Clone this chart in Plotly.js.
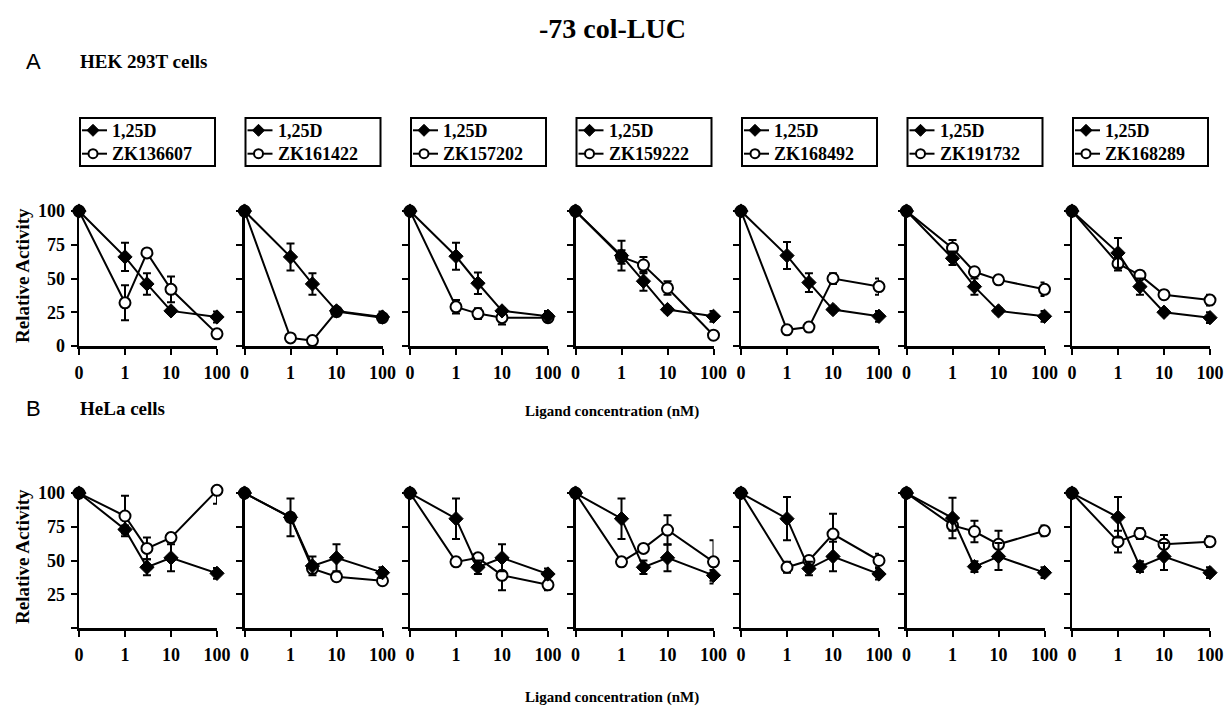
<!DOCTYPE html>
<html>
<head>
<meta charset="utf-8">
<script src="https://cdn.plot.ly/plotly-3.0.1.min.js"></script>
<style>html,body{margin:0;padding:0;background:#fff;}#chart{width:1225px;height:722px;}</style>
</head>
<body>
<div id="chart"></div>
<script>
// ---------------- DATA ----------------
const concentrations = [0, 1, 3, 10, 100];            // nM
const xTickVals = [0, 1, 10, 100];
const xTickText = ['0', '1', '10', '100'];
const yTickVals = [0, 25, 50, 75, 100];
const compounds = ['ZK136607', 'ZK161422', 'ZK157202', 'ZK159222', 'ZK168492', 'ZK191732', 'ZK168289'];
const referenceName = '1,25D';

// HEK 293T cells (panel A)
const hek125D = [
  [100, 66, 46, 26, 21.5],
  [100, 66, 46, 26, 21.5],
  [100, 66.5, 46.5, 26, 22],
  [100, 67, 48, 27, 22],
  [100, 67, 47, 27, 22],
  [100, 65, 44, 26, 22],
  [100, 69, 44, 25, 21]
];
const hek125DErr = [
  [0, 10.5, 8, 2, 4],
  [0, 10, 8, 2, 4],
  [0, 10, 8, 2, 4],
  [0, 11, 7, 2, 4],
  [0, 10, 7, 2, 4],
  [0, 5, 6, 2, 4],
  [0, 11, 6, 2, 4]
];
const hekZK = [
  [100, 32, 69, 42, 9],
  [100, 6, 4, 25.5, 21],
  [100, 29, 24, 21, 21],
  [100, 66, 60, 43, 8],
  [100, 12, 14, 50, 44],
  [100, 72.5, 55, 49, 42],
  [100, 61, 52.5, 38, 34]
];
const hekZKErr = [
  [0, 13, 2, 9.5, 3],
  [0, 2, 2, 2, 3],
  [0, 5, 4, 5, 3],
  [0, 5, 6, 5, 3],
  [0, 2, 3, 4, 6],
  [0, 6, 2, 3, 5],
  [0, 5, 2, 3, 4]
];

// HeLa cells (panel B)
const hela125D = [
  [100, 73, 45, 52, 40.5],
  [100, 82, 46, 52, 41],
  [100, 81, 45, 52, 40],
  [100, 81, 45, 52, 39],
  [100, 81, 44, 53, 40],
  [100, 81.5, 45.5, 53, 41],
  [100, 82, 45.5, 53, 41]
];
const hela125DErr = [
  [0, 3, 6, 10, 4],
  [0, 14, 7, 10, 4],
  [0, 15, 5, 10, 4],
  [0, 15, 5, 10, 4],
  [0, 16, 5, 11, 4],
  [0, 15, 4, 10, 4],
  [0, 15, 4, 10, 4]
];
const helaZK = [
  [100, 83, 59, 67, 102],
  [100, 82, 44, 38, 35],
  [100, 49, 52, 39, 32],
  [100, 49, 59, 72.6, 49],
  [100, 45, 50, 69.6, 50],
  [100, 76, 71.5, 62, 72],
  [100, 64, 70, 62, 64]
];
const helaZKErr = [
  [0, 15, 8, 3, 10],
  [0, 3, 3, 3, 3],
  [0, 3, 2, 11, 4],
  [0, 3, 2, 11, 16],
  [0, 4, 2, 15, 5],
  [0, 4, 8, 10, 4],
  [0, 8, 4, 7, 4]
];

// ---------------- LAYOUT HELPERS ----------------
const W = 1225, H = 722;
const fx = px => px / W;
const fy = py => 1 - py / H;
// 0 nM is drawn one decade below 1 nM on the log axis
const toLog = c => (c === 0 ? 0.1 : c);
const xPlot = concentrations.map(toLog);

const serif = 'Liberation Serif, Times New Roman, serif';
const boldFont = (size) => ({family: serif, size: size, color: '#000', weight: 'bold'});

const panelStarts = [79, 244.5, 410, 575.5, 741, 906.5, 1072];
const panelWidth = 138;
const rows = [
  {y0: 346, yTop: 207, d: hek125D, de: hek125DErr, z: hekZK, ze: hekZKErr, labels: ['0', '25', '50', '75', '100']},
  {y0: 628, yTop: 489, d: hela125D, de: hela125DErr, z: helaZK, ze: helaZKErr, labels: ['', '25', '50', '75', '100']}
];

const traces = [];
const layout = {
  width: W, height: H,
  margin: {l: 0, r: 0, t: 0, b: 0},
  paper_bgcolor: '#fff', plot_bgcolor: 'rgba(0,0,0,0)',
  showlegend: false,
  annotations: [],
  shapes: [],
  font: boldFont(17)
};

let axisIndex = 0;
rows.forEach((row, r) => {
  compounds.forEach((cmp, i) => {
    axisIndex++;
    const xa = 'xaxis' + (axisIndex === 1 ? '' : axisIndex);
    const ya = 'yaxis' + (axisIndex === 1 ? '' : axisIndex);
    const xr = 'x' + (axisIndex === 1 ? '' : axisIndex);
    const yr = 'y' + (axisIndex === 1 ? '' : axisIndex);
    layout[xa] = {
      type: 'log', range: [-1, 2],
      domain: [fx(panelStarts[i]), fx(panelStarts[i] + panelWidth)],
      anchor: yr,
      tickvals: xTickVals.map(toLog), ticktext: xTickText,
      showline: true, linewidth: 2.5, linecolor: '#000',
      ticks: 'outside', ticklen: 6, tickwidth: 2, tickcolor: '#000',
      showgrid: false, zeroline: false,
      tickfont: boldFont(18), ticklabelstandoff: 3,
      fixedrange: true
    };
    layout[ya] = {
      range: [0, 103],
      domain: [fy(row.y0), fy(row.yTop)],
      anchor: xr,
      tickvals: yTickVals, ticktext: row.labels,
      showticklabels: i === 0,
      showline: true, linewidth: 2.5, linecolor: '#000',
      ticks: 'outside', ticklen: 6, tickwidth: 2, tickcolor: '#000',
      showgrid: false, zeroline: false,
      tickfont: boldFont(18), ticklabelstandoff: 2,
      fixedrange: true
    };
    // compound (open circles) drawn first, 1,25D (filled diamonds) on top
    traces.push({
      type: 'scatter', mode: 'lines+markers',
      x: xPlot, y: row.z[i], xaxis: xr, yaxis: yr,
      name: cmp,
      line: {color: '#000', width: 2},
      marker: {symbol: 'circle', size: 11, color: '#fff', line: {color: '#000', width: 2}},
      error_y: {type: 'data', array: row.ze[i], visible: true, color: '#000', thickness: 2, width: 4},
      cliponaxis: false, hoverinfo: 'skip'
    });
    traces.push({
      type: 'scatter', mode: 'lines+markers',
      x: xPlot, y: row.d[i], xaxis: xr, yaxis: yr,
      name: referenceName,
      line: {color: '#000', width: 2},
      marker: {symbol: 'diamond', size: 11, color: '#000', line: {color: '#000', width: 1}},
      error_y: {type: 'data', array: row.de[i], visible: true, color: '#000', thickness: 2, width: 4},
      cliponaxis: false, hoverinfo: 'skip'
    });
  });
});

// ---------------- LEGEND BOXES (one per compound column) ----------------
const legFontSize = 18;
const legLine = legFontSize * 1.3;            // Plotly's line spacing for <br>
const legMid = 142;
const legRow1 = legMid - legLine / 2, legRow2 = legMid + legLine / 2;
const legTop = 118, legBottom = 166, legWidth = 135;
compounds.forEach((cmp, i) => {
  const s = panelStarts[i] + 1;
  layout.shapes.push({type: 'rect', xref: 'paper', yref: 'paper',
    x0: fx(s), x1: fx(s + legWidth), y0: fy(legBottom), y1: fy(legTop),
    line: {color: '#000', width: 2}, fillcolor: 'rgba(0,0,0,0)'});
  [legRow1, legRow2].forEach((ry) => {
    layout.shapes.push({type: 'line', xref: 'paper', yref: 'paper',
      x0: fx(s + 2), x1: fx(s + 27), y0: fy(ry), y1: fy(ry),
      line: {color: '#000', width: 2}});
  });
  // diamond glyph for 1,25D
  const cx = s + 13, d = 6;
  layout.shapes.push({type: 'path', xref: 'paper', yref: 'paper',
    path: `M ${fx(cx)} ${fy(legRow1 - d)} L ${fx(cx + d)} ${fy(legRow1)} L ${fx(cx)} ${fy(legRow1 + d)} L ${fx(cx - d)} ${fy(legRow1)} Z`,
    fillcolor: '#000', line: {color: '#000', width: 1}});
  // open circle glyph for compound
  const rr = 4.5;
  layout.shapes.push({type: 'circle', xref: 'paper', yref: 'paper',
    x0: fx(cx - rr), x1: fx(cx + rr), y0: fy(legRow2 + rr), y1: fy(legRow2 - rr),
    fillcolor: '#fff', line: {color: '#000', width: 2}});
  layout.annotations.push({text: referenceName + '<br>' + cmp, xref: 'paper', yref: 'paper',
    x: fx(s + 30), y: fy(legMid), xanchor: 'left', yanchor: 'middle', align: 'left',
    showarrow: false, font: boldFont(legFontSize)});
});

function ann(text, px, py, opts) {
  layout.annotations.push(Object.assign({
    text: text, x: fx(px), y: fy(py), xref: 'paper', yref: 'paper',
    showarrow: false, xanchor: 'center', yanchor: 'middle', font: boldFont(17)
  }, opts || {}));
}
const sansThin = {family: 'Liberation Sans, Arial, sans-serif', size: 22, color: '#000', weight: 'normal'};
ann('-73 col-LUC', 612, 29, {font: boldFont(28)});
ann('A', 24, 62, {xanchor: 'left', font: sansThin});
ann('HEK 293T cells', 78, 62, {xanchor: 'left', font: boldFont(19)});
ann('B', 24, 408, {xanchor: 'left', font: sansThin});
ann('HeLa cells', 78, 408, {xanchor: 'left', font: boldFont(19)});
ann('Ligand concentration (nM)', 612, 411, {font: boldFont(15)});
ann('Ligand concentration (nM)', 612, 697, {font: boldFont(15)});
ann('Relative Activity', 22, 276, {textangle: -90, font: boldFont(19)});
ann('Relative Activity', 22, 557, {textangle: -90, font: boldFont(19)});

Plotly.newPlot('chart', traces, layout, {staticPlot: true, displayModeBar: false});
</script>
</body>
</html>
